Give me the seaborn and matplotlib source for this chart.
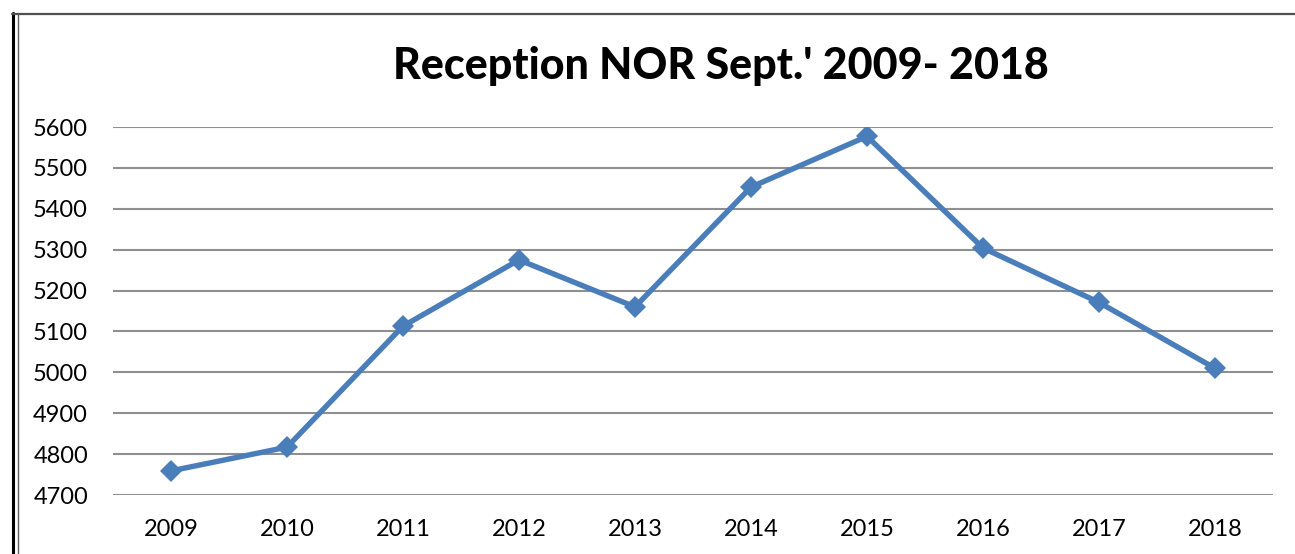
import matplotlib
matplotlib.use("Agg")
import matplotlib.pyplot as plt
import seaborn as sns
import pandas as pd
from matplotlib.lines import Line2D

years = ["2009", "2010", "2011", "2012", "2013", "2014", "2015", "2016", "2017", "2018"]
reception = [4759, 4817, 5113, 5275, 5160, 5453, 5577, 5304, 5171, 5010]
y_ticks = [4700, 4800, 4900, 5000, 5100, 5200, 5300, 5400, 5500, 5600]
title = "Reception NOR Sept.' 2009- 2018"

df = pd.DataFrame({"year": years, "reception": reception})

sns.set_style("white")
plt.rcParams["font.family"] = ["Lato", "DejaVu Sans"]
plt.rcParams["text.color"] = "black"

fig = plt.figure(figsize=(12.95, 5.54), dpi=100)
ax = fig.add_axes([113 / 1295, 59 / 554, 1160 / 1295, 368 / 554])

sns.lineplot(data=df, x="year", y="reception", ax=ax, color="#4a7ebb",
             linewidth=3.9, marker="D", markersize=11, markeredgewidth=0,
             sort=False, zorder=3)

ax.set_xlim(-0.5, len(years) - 0.5)
ax.set_ylim(y_ticks[0], y_ticks[-1])
ax.set_yticks(y_ticks)
ax.set_yticklabels([str(t) for t in y_ticks])
ax.yaxis.grid(True, color="#8f8f8f", linewidth=1.5)
ax.set_axisbelow(True)
ax.tick_params(axis="both", length=0, labelsize=17, colors="black")
ax.tick_params(axis="y", pad=18)
ax.tick_params(axis="x", pad=17)
ax.set_xlabel("")
ax.set_ylabel("")
for s in ax.spines.values():
    s.set_visible(False)

fig.text(721 / 1295, 1 - 66 / 554, title, ha="center", va="center",
         fontsize=31, fontweight="black", color="black")

# outer frame
fig.add_artist(Line2D([13 / 1295, 13 / 1295], [0, 1 - 13 / 554], color="black", linewidth=2.2))
fig.add_artist(Line2D([17.5 / 1295, 17.5 / 1295], [0, 1 - 14 / 554], color="#606060", linewidth=1))
fig.add_artist(Line2D([12 / 1295, 1], [1 - 14 / 554, 1 - 14 / 554], color="#505050", linewidth=1.6))

fig.savefig("out.png", dpi=100)
